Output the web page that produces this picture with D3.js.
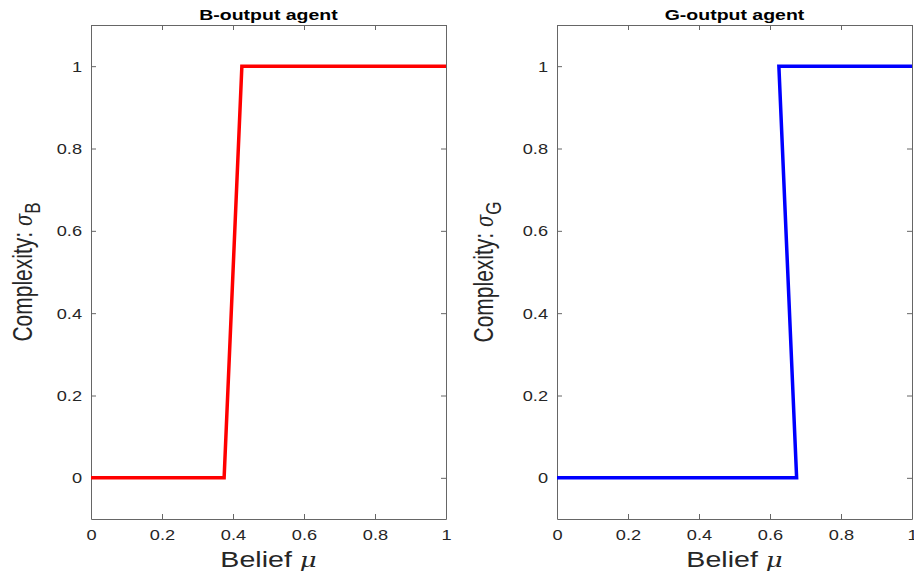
<!DOCTYPE html>
<html>
<head>
<meta charset="utf-8">
<script src="https://cdn.jsdelivr.net/npm/d3@7"></script>
<style>
  body { margin: 0; background: #fff; }
  svg { display: block; }
</style>
</head>
<body>
<svg id="chart" width="914" height="571"></svg>
<script>
// tick values and labels
const muTicks = [0, 0.2, 0.4, 0.6, 0.8, 1];
const sigmaTicks = [0, 0.2, 0.4, 0.6, 0.8, 1];
const tickLabels = ["0", "0.2", "0.4", "0.6", "0.8", "1"];

// B-output agent: complexity vs belief
const bMu = [0, 0.375, 0.425, 1];
const bSigma = [0, 0, 1, 1];

// G-output agent
const gMu = [0, 0.675, 0.625, 1];
const gSigma = [0, 0, 1, 1];

const sx = 1.3; // the original figure is stretched horizontally
const axisColor = "#666";
const textColor = "#262626";

const panels = [
    {title: "B-output agent", sub: "B", mu: bMu, sigma: bSigma, color: "#ff0000", left: 91, right: 446, ylabX: 32},
    {title: "G-output agent", sub: "G", mu: gMu, sigma: gSigma, color: "#0000ff", left: 557, right: 912, ylabX: 493}
];

const plotTop = 25, plotBottom = 519;
const svg = d3.select('#chart');

panels.forEach(p => {
    const x = d3.scaleLinear().domain([0, 1]).range([p.left, p.right]);
    const y = d3.scaleLinear().domain([-0.1, 1.1]).range([plotBottom, plotTop]);
    const fmt = d => tickLabels[muTicks.indexOf(d)];

    const g = svg.append('g');

    // bottom axis with labels, ticks pointing inward
    const xAxis = g.append('g')
        .attr('transform', `translate(0, ${plotBottom})`)
        .call(d3.axisBottom(x).tickValues(muTicks).tickFormat(fmt).tickSizeInner(-5).tickSizeOuter(0).tickPadding(14));
    xAxis.selectAll('text')
        .attr('transform', `scale(${sx},1)`)
        .attr('y', 0).attr('dy', 21)
        .style('font-family', 'Liberation Sans, Arial, sans-serif')
        .style('font-size', '14px')
        .attr('fill', textColor);

    // top axis, no labels
    g.append('g')
        .attr('transform', `translate(0, ${plotTop})`)
        .call(d3.axisTop(x).tickValues(muTicks).tickFormat('').tickSizeInner(-5).tickSizeOuter(0));

    // left axis with labels
    const yAxis = g.append('g')
        .attr('transform', `translate(${p.left}, 0)`)
        .call(d3.axisLeft(y).tickValues(sigmaTicks).tickFormat(d => tickLabels[sigmaTicks.indexOf(d)]).tickSizeInner(-5).tickSizeOuter(0));
    yAxis.selectAll('text')
        .attr('transform', `scale(${sx},1)`)
        .attr('x', -9 / sx)
        .attr('dy', '0.36em')
        .style('font-family', 'Liberation Sans, Arial, sans-serif')
        .style('font-size', '14px')
        .attr('fill', textColor);

    // right axis, no labels
    g.append('g')
        .attr('transform', `translate(${p.right}, 0)`)
        .call(d3.axisRight(y).tickValues(sigmaTicks).tickFormat('').tickSizeInner(-5).tickSizeOuter(0));

    g.selectAll('.domain, .tick line').attr('stroke', axisColor);

    // the step line
    const pts = p.mu.map((m, i) => [m, p.sigma[i]]);
    g.append('path')
        .datum(pts)
        .attr('fill', 'none')
        .attr('stroke', p.color)
        .attr('stroke-width', 3.5)
        .attr('stroke-linejoin', 'miter')
        .attr('d', d3.line().x(d => x(d[0])).y(d => y(d[1])));

    const cx = (p.left + p.right) / 2;

    // title
    g.append('text')
        .attr('transform', `translate(${cx}, 20) scale(${sx},1)`)
        .attr('text-anchor', 'middle')
        .style('font-family', 'Liberation Sans, Arial, sans-serif')
        .style('font-size', '15px')
        .style('font-weight', 'bold')
        .attr('fill', '#000')
        .text(p.title);

    // x label
    const xl = g.append('text')
        .attr('transform', `translate(${cx}, 567) scale(${sx},1)`)
        .attr('text-anchor', 'middle')
        .style('font-family', 'Liberation Sans, Arial, sans-serif')
        .style('font-size', '22px')
        .attr('fill', textColor);
    xl.append('tspan').text('Belief ');
    xl.append('tspan').style('font-style', 'italic').style('font-family', 'DejaVu Serif, serif').style('font-size', '20px').text('μ');

    // y label
    const yl = g.append('text')
        .attr('transform', `translate(${p.ylabX}, ${(plotTop + plotBottom) / 2}) scale(${sx},1) rotate(-90)`)
        .attr('text-anchor', 'middle')
        .style('font-family', 'Liberation Sans, Arial, sans-serif')
        .style('font-size', '21px')
        .attr('fill', textColor);
    yl.append('tspan').text('Complexity: ');
    yl.append('tspan').style('font-style', 'italic').style('font-family', 'DejaVu Serif, serif').style('font-size', '18px').text('σ');
    yl.append('tspan').attr('dy', '0.35em').style('font-size', '17px').text(p.sub);
});
</script>
</body>
</html>
